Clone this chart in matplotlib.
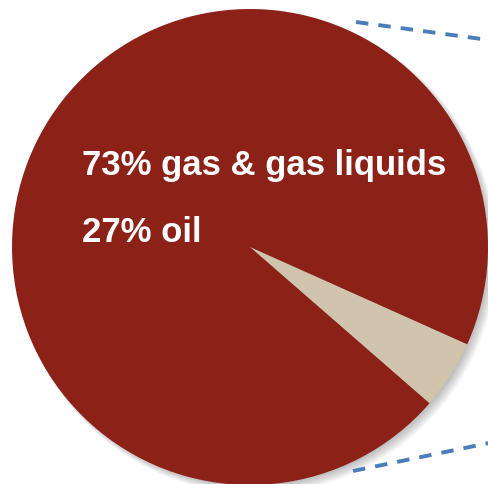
import matplotlib.pyplot as plt
from matplotlib.patches import Circle

# slice shares (beige sliver vs. the rest)
labels = ["other", "main"]
shares = [4.7, 95.3]
colors = ["#D0C5AC", "#8C2118"]
text_lines = ["73% gas & gas liquids", "27% oil"]

W, H = 489, 485
fig = plt.figure(figsize=(W / 100, H / 100), dpi=100)
ax = fig.add_axes([0, 0, 1, 1])

cx, cy, r = 250, H - 248, 238

# soft drop shadow toward lower right
for i in range(10):
    off = 1 + i * 0.6
    ax.add_patch(Circle((cx + off, cy - off), r - 2 + i * 0.5,
                        color="black", alpha=0.03, lw=0, zorder=1))

ax.pie(shares, colors=colors, startangle=-41.05, counterclock=True,
       center=(cx, cy), radius=r, frame=True,
       wedgeprops=dict(linewidth=0, zorder=2))
ax.set_xlim(0, W)
ax.set_ylim(0, H)
ax.set_aspect("equal")
ax.axis("off")

# callout connector lines
ax.plot([356, 489], [H - 23, H - 41], ls=(0, (3.2, 2.6)), lw=2.8,
        color="#4A7EBB", zorder=3, solid_capstyle="butt")
ax.plot([353, 489], [H - 472, H - 444], ls=(0, (3.2, 2.6)), lw=2.8,
        color="#4A7EBB", zorder=3, solid_capstyle="butt")

ax.text(82, H - 175, text_lines[0], color="white", fontsize=25,
        fontweight="bold", family="Liberation Sans", va="baseline", zorder=4)
ax.text(82, H - 242, text_lines[1], color="white", fontsize=25,
        fontweight="bold", family="Liberation Sans", va="baseline", zorder=4)

fig.savefig("out.png", dpi=100)
